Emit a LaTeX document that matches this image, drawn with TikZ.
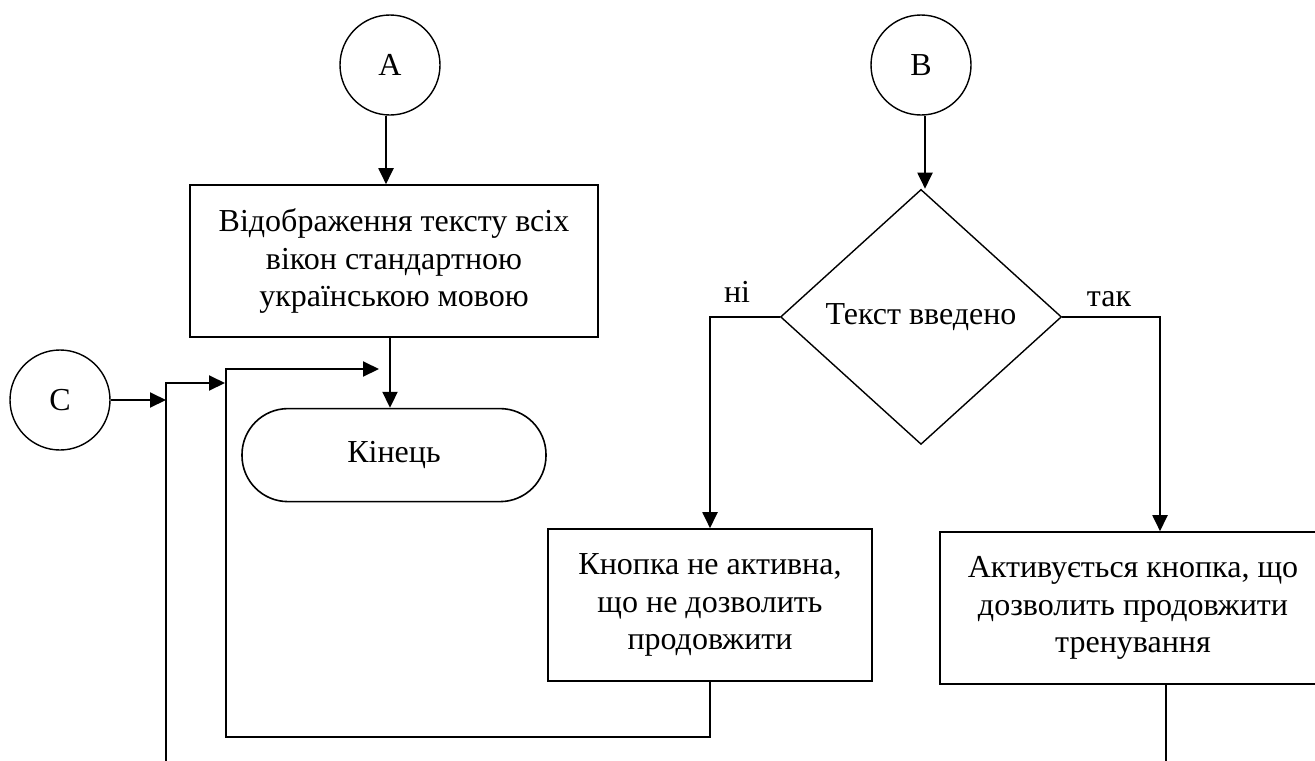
\documentclass[tikz,border=0pt]{standalone}
\usepackage{fontspec}
\setmainfont{Liberation Serif}
\usepackage{tikz}
\usetikzlibrary{positioning, arrows.meta, shapes.geometric}
\tikzset{
    connector/.style={
        circle,
        draw,
        line width=0.7pt,
        minimum size=50pt,
        inner sep=0pt
    },
    procbox/.style={
        draw,
        line width=0.8pt,
        minimum height=76pt,
        align=center,
        inner sep=2pt
    },
    termbox/.style={
        draw,
        line width=0.8pt,
        rounded corners=23pt,
        minimum width=152pt,
        minimum height=46.5pt
    },
    decbox/.style={
        diamond,
        draw,
        line width=0.7pt,
        minimum width=140.5pt,
        minimum height=127.5pt,
        inner sep=0pt
    },
    arrow/.style={
        -{Triangle[length=8pt,width=7.5pt]},
        line width=1pt
    },
    flow/.style={
        line width=1pt
    }
}

\begin{document}
\begin{tikzpicture}[x=0.5pt, y=-0.5pt, font=\fontsize{16}{18.75}\selectfont]
\useasboundingbox (0,0) rectangle (1315,760);
\clip (0,0) rectangle (1315,760);

% ---------------------------------------------------------
% Nodes
% ---------------------------------------------------------

% Left: connector A and its branch
\node[connector] (conA) at (390,65) {A};
\node[procbox, minimum width=204pt] (show) at (394,261) {%
    Відображення тексту всіх\\
    вікон стандартною\\
    українською мовою
};
\node[termbox, below=35pt of show] (finish) {Кінець};

% Right: connector B and the check
\node[connector] (conB) at (921,65) {B};
\node[decbox, below=36.5pt of conB] (check) {Текст введено};
\node[procbox, minimum width=162pt] (inactive) at (710,605) {%
    Кнопка не активна,\\
    що не дозволить\\
    продовжити
};
\node[procbox, minimum width=193pt] (active) at (1133,608) {%
    Активується кнопка, що\\
    дозволить продовжити\\
    тренування
};

% Far left: connector C
\node[connector] (conC) at (60,400) {C};

% Branch labels
\node[anchor=base] (nolbl) at (737,302) {ні};
\node[anchor=base] (yeslbl) at (1109,306) {так};

% Free ends of the lines
\coordinate (joinend) at (379,369);
\coordinate (loopbot) at (226,737);
\coordinate (ctop) at (166,383);
\coordinate (cbot) at (166,780);
\coordinate (cjoin) at (225,383);
\coordinate (activein) at ([xshift=13.5pt]active.north);
\coordinate (activeout) at ([xshift=16.5pt]active.south);

% ---------------------------------------------------------
% Arrows
% ---------------------------------------------------------

% A -> display
\draw[arrow] ([xshift=-2pt]conA.south) -- ([xshift=-2pt]conA.south |- show.north);

% display -> end
\draw[arrow] ([xshift=-2pt]show.south) -- ([xshift=-2pt]show.south |- finish.north);

% B -> check
\draw[arrow] ([xshift=2pt]conB.south) -- ([xshift=2pt]conB.south |- check.north);

% check -> no / yes
\draw[arrow] (check.west) -| (inactive.north);
\draw[arrow] (check.east) -| (activein);

% inactive -> back to end
\draw[arrow] (inactive.south) |- (loopbot) |- (joinend);

% C -> line
\draw[arrow] (conC.east) -- (conC.east -| ctop);
\draw[arrow] (cbot) -- (ctop) -- (cjoin);

% active -> down
\draw[flow] (activeout) -- ++(0,-60pt);

\end{tikzpicture}
\end{document}
